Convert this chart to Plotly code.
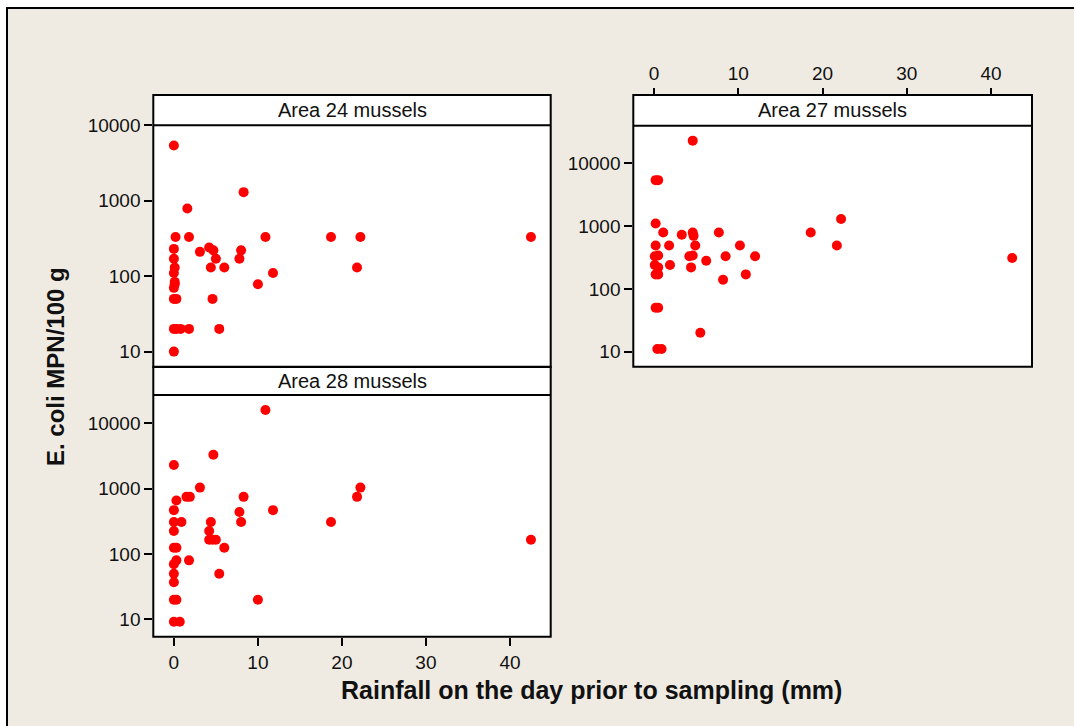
import plotly.graph_objects as go

# E. coli results (MPN/100 g) against rainfall on the day before sampling (mm)
rain_24 = [0, 8.3, 1.6, 0.2, 1.8, 10.9, 18.7, 22.2, 42.5, 0, 4.2, 4.7, 8.0, 3.1, 0, 5.0,
           7.8, 0.1, 4.4, 6.0, 21.8, 0, 11.8, 0.1, 0.1, 10.0, 0, 0, 0.3, 4.6, 0, 0.3,
           0.8, 1.8, 5.4, 0]
ecoli_24 = [5400, 1300, 790, 330, 330, 330, 330, 330, 330, 230, 240, 220, 220, 210, 170, 170,
            170, 130, 130, 130, 130, 110, 110, 84, 78, 78, 70, 50, 50, 50, 20, 20,
            20, 20, 20, 10]

rain_27 = [4.6, 0.2, 0.5, 0.2, 22.2, 1.1, 3.3, 4.6, 4.7, 7.7, 18.6, 0.2, 1.8, 4.9, 10.2,
           21.7, 0.1, 0.5, 4.2, 4.6, 8.5, 12.0, 42.5, 6.2, 0.1, 1.9, 0.5, 4.4, 0.2, 0.5,
           10.9, 8.2, 0.2, 0.5, 5.5, 0.4, 0.9]
ecoli_27 = [23000, 5400, 5400, 1100, 1300, 790, 730, 790, 700, 790, 790, 490, 490, 490, 490,
            490, 330, 340, 330, 340, 330, 330, 310, 280, 240, 240, 220, 220, 170, 170,
            170, 140, 50, 50, 20, 11, 11]

rain_28 = [10.9, 4.7, 0, 3.1, 22.2, 1.5, 1.9, 8.3, 21.8, 0.3, 0, 11.8, 7.8, 0, 0.9, 4.4,
           8.0, 18.7, 0, 4.2, 4.2, 4.6, 5.0, 42.5, 0, 0.3, 6.0, 0.3, 1.8, 0, 0, 5.4,
           0, 0, 0.3, 10.0, 0, 0.7]
ecoli_28 = [16000, 3300, 2300, 1040, 1040, 750, 750, 750, 750, 660, 470, 470, 440, 310, 310, 310,
            310, 310, 225, 225, 165, 165, 165, 165, 125, 125, 125, 80, 80, 70, 50, 50,
            37, 20, 20, 20, 9.2, 9.2]

panel_titles = ["Area 24 mussels", "Area 27 mussels", "Area 28 mussels"]
x_ticks = [0, 10, 20, 30, 40]
y_ticks = [10, 100, 1000, 10000]
y_tick_text = ["10", "100", "1000", "10000"]

W, H = 1074, 726
FONT = "Liberation Sans, Arial, sans-serif"


def fx(px):
    return px / W


def fy(py):
    return 1 - py / H


# panel geometry in pixels: left, right, strip top, plot top, plot bottom
panels = [
    (153.3, 550.7, 95.0, 125.3, 366.7),   # Area 24
    (633.3, 1032.0, 95.0, 125.7, 366.7),  # Area 27
    (153.3, 550.7, 367.0, 395.0, 636.7),  # Area 28
]
y_ranges = [[0.80, 4.0], [0.76, 4.60], [0.735, 4.434]]
x_range = [-2.45, 44.85]

fig = go.Figure()

series = [(rain_24, ecoli_24), (rain_27, ecoli_27), (rain_28, ecoli_28)]
for i, (xs, ys) in enumerate(series):
    suffix = "" if i == 0 else str(i + 1)
    fig.add_trace(go.Scatter(
        x=xs, y=ys, mode="markers",
        marker=dict(color="#FF0000", size=10, line=dict(width=0)),
        xaxis="x" + suffix, yaxis="y" + suffix, showlegend=False,
        cliponaxis=False,
    ))

shapes = [
    # outer beige frame
    dict(type="rect", xref="paper", yref="paper", x0=fx(7), x1=1.2, y0=-0.2, y1=fy(8),
         fillcolor="#EFEBE2", line=dict(color="black", width=2), layer="below"),
]
annotations = []
layout_axes = {}

tick_font = dict(family=FONT, size=19, color="#111111")

for i, (l, r, st, pt, pb) in enumerate(panels):
    suffix = "" if i == 0 else str(i + 1)
    shapes.append(dict(type="rect", xref="paper", yref="paper",
                       x0=fx(l), x1=fx(r), y0=fy(pb), y1=fy(st),
                       fillcolor="white", line=dict(color="black", width=2), layer="below"))
    shapes.append(dict(type="line", xref="paper", yref="paper",
                       x0=fx(l), x1=fx(r), y0=fy(pt), y1=fy(pt),
                       line=dict(color="black", width=2), layer="below"))
    annotations.append(dict(text=panel_titles[i], xref="paper", yref="paper",
                            x=fx((l + r) / 2), y=fy((st + pt) / 2),
                            xanchor="center", yanchor="middle", showarrow=False,
                            font=dict(family=FONT, size=20, color="#111111")))

    xa = dict(domain=[fx(l), fx(r)], range=x_range, showgrid=False, zeroline=False,
              showline=False, tickvals=x_ticks, tickfont=tick_font,
              anchor="y" + suffix, automargin=False)
    if i == 0:
        xa.update(ticks="", showticklabels=False)
    elif i == 1:
        xa.update(side="top", anchor="free", position=fy(st), ticks="outside",
                  ticklen=7, tickwidth=2, tickcolor="black")
    else:
        xa.update(ticks="outside", ticklen=8, tickwidth=2, tickcolor="black")

    ya = dict(domain=[fy(pb), fy(pt)], type="log", range=y_ranges[i],
              showgrid=False, zeroline=False, showline=False,
              tickvals=y_ticks, ticktext=y_tick_text, tickfont=tick_font,
              ticks="outside", ticklen=8, tickwidth=2, tickcolor="black",
              anchor="x" + suffix, automargin=False)
    layout_axes["xaxis" + suffix] = xa
    layout_axes["yaxis" + suffix] = ya

annotations.append(dict(text="<b>E. coli MPN/100 g</b>", xref="paper", yref="paper",
                        x=fx(56), y=fy(367), textangle=-90, showarrow=False,
                        xanchor="center", yanchor="middle",
                        font=dict(family=FONT, size=24, color="#111111")))
annotations.append(dict(text="<b>Rainfall on the day prior to sampling (mm)</b>",
                        xref="paper", yref="paper", x=fx(591.5), y=fy(690),
                        showarrow=False, xanchor="center", yanchor="middle",
                        font=dict(family=FONT, size=25, color="#111111")))

fig.update_layout(
    width=W, height=H, margin=dict(l=0, r=0, t=0, b=0, autoexpand=False),
    paper_bgcolor="white", plot_bgcolor="rgba(0,0,0,0)",
    shapes=shapes, annotations=annotations, **layout_axes,
)

fig.write_html("out.html")
